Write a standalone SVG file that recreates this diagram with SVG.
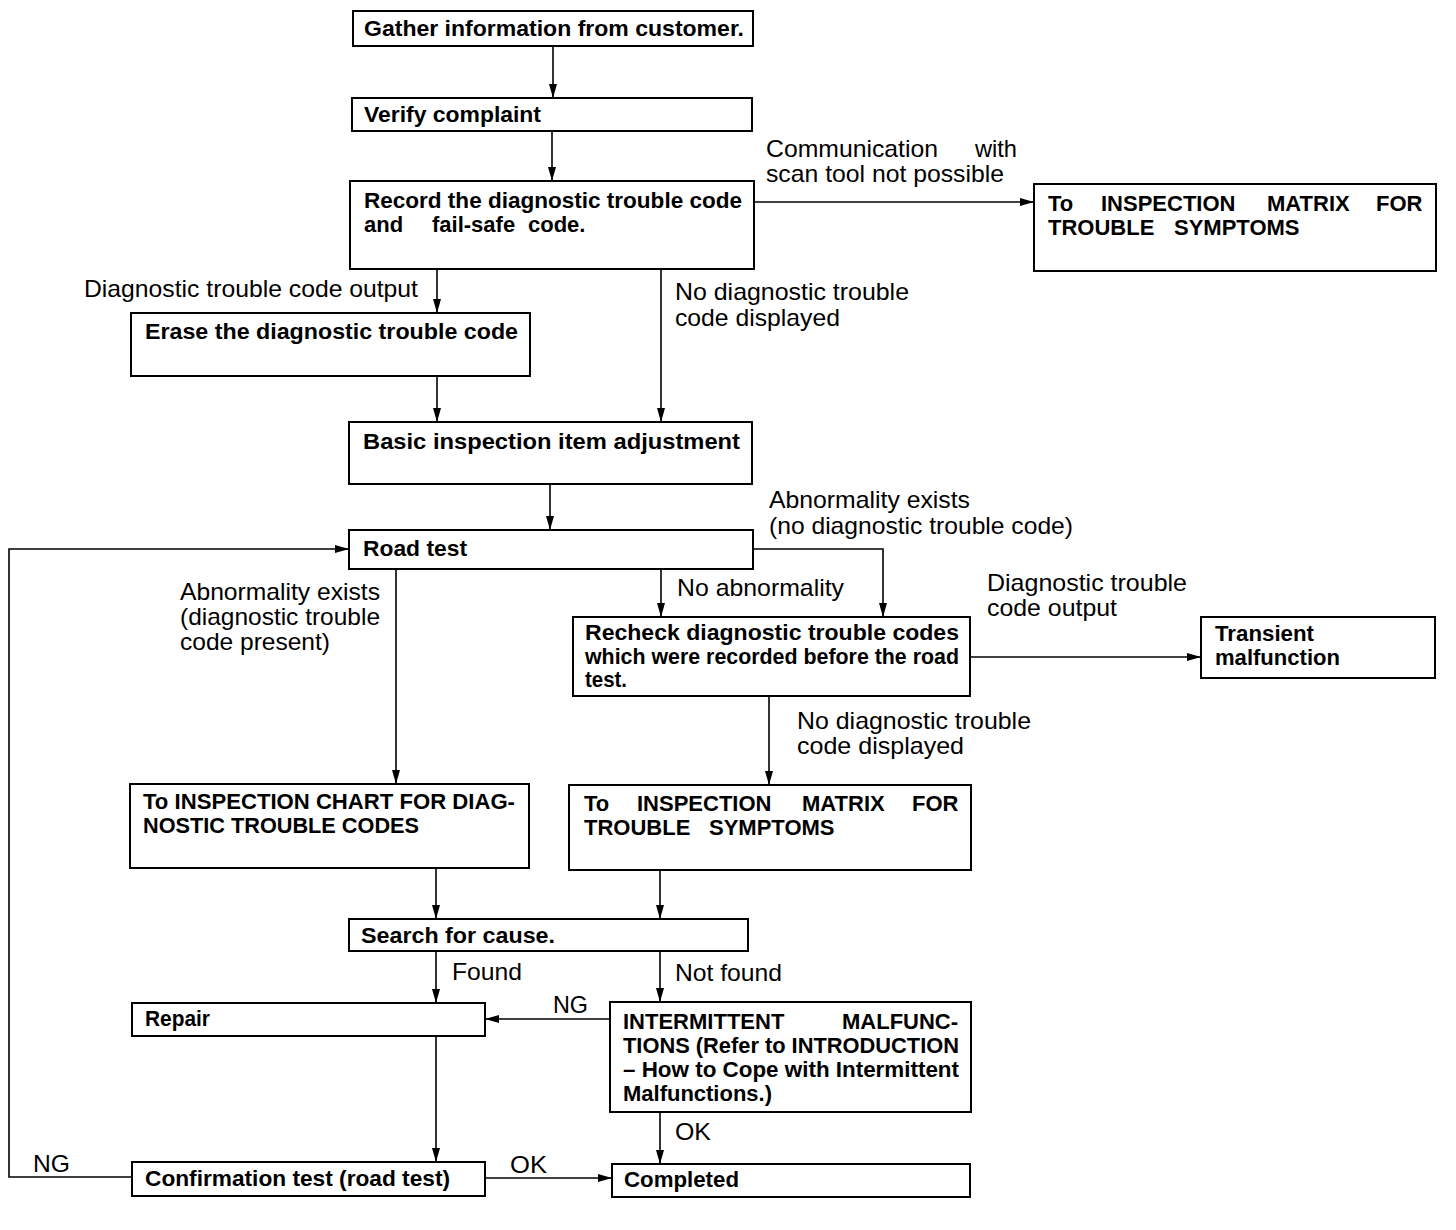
<svg xmlns="http://www.w3.org/2000/svg" width="1456" height="1230" viewBox="0 0 1456 1230">
<defs>
<style>
.box{fill:#fff;stroke:#000;stroke-width:2}
.b{font-family:"Liberation Sans",Arial,sans-serif;font-weight:bold;font-size:22px;fill:#000}
.l{font-family:"Liberation Sans",Arial,sans-serif;font-size:24px;fill:#000}
.c{fill:none;stroke:#000;stroke-width:1.6}
</style>
<marker id="ah" markerUnits="userSpaceOnUse" markerWidth="14" markerHeight="8" refX="14" refY="4" orient="auto">
<path d="M0,0 L14,4 L0,8 z" fill="#000"/>
</marker>
</defs>
<rect width="1456" height="1230" fill="#fff"/>

<g id="connectors">
<path class="c" d="M553,46 V98" marker-end="url(#ah)"/>
<path class="c" d="M552,131 V181" marker-end="url(#ah)"/>
<path class="c" d="M754,202 H1034" marker-end="url(#ah)"/>
<path class="c" d="M437,269 V313" marker-end="url(#ah)"/>
<path class="c" d="M661,269 V422" marker-end="url(#ah)"/>
<path class="c" d="M437,376 V422" marker-end="url(#ah)"/>
<path class="c" d="M550,484 V530" marker-end="url(#ah)"/>
<path class="c" d="M661,569 V617" marker-end="url(#ah)"/>
<path class="c" d="M753,549 H883 V617" marker-end="url(#ah)"/>
<path class="c" d="M396,569 V784" marker-end="url(#ah)"/>
<path class="c" d="M970,657 H1201" marker-end="url(#ah)"/>
<path class="c" d="M769,696 V785" marker-end="url(#ah)"/>
<path class="c" d="M436,868 V919" marker-end="url(#ah)"/>
<path class="c" d="M660,870 V919" marker-end="url(#ah)"/>
<path class="c" d="M436,951 V1003" marker-end="url(#ah)"/>
<path class="c" d="M660,951 V1002" marker-end="url(#ah)"/>
<path class="c" d="M610,1019 H485" marker-end="url(#ah)"/>
<path class="c" d="M436,1036 V1162" marker-end="url(#ah)"/>
<path class="c" d="M660,1112 V1164" marker-end="url(#ah)"/>
<path class="c" d="M485,1178 H612" marker-end="url(#ah)"/>
<path class="c" d="M132,1177 H9 V549 H349" marker-end="url(#ah)"/>
</g>

<g id="labels">
<text class="l" y="157"><tspan x="766" textLength="172" lengthAdjust="spacingAndGlyphs">Communication</tspan><tspan x="975" textLength="42" lengthAdjust="spacingAndGlyphs">with</tspan></text>
<text class="l" x="766" y="182" textLength="238" lengthAdjust="spacingAndGlyphs">scan tool not possible</text>
<text class="l" x="84" y="297" textLength="334" lengthAdjust="spacingAndGlyphs">Diagnostic trouble code output</text>
<text class="l" x="675" y="300" textLength="234" lengthAdjust="spacingAndGlyphs">No diagnostic trouble</text>
<text class="l" x="675" y="326" textLength="165" lengthAdjust="spacingAndGlyphs">code displayed</text>
<text class="l" x="769" y="508" textLength="201" lengthAdjust="spacingAndGlyphs">Abnormality exists</text>
<text class="l" x="769" y="534" textLength="304" lengthAdjust="spacingAndGlyphs">(no diagnostic trouble code)</text>
<text class="l" x="677" y="596" textLength="167" lengthAdjust="spacingAndGlyphs">No abnormality</text>
<text class="l" x="180" y="600" textLength="200" lengthAdjust="spacingAndGlyphs">Abnormality exists</text>
<text class="l" x="180" y="625" textLength="200" lengthAdjust="spacingAndGlyphs">(diagnostic trouble</text>
<text class="l" x="180" y="650" textLength="150" lengthAdjust="spacingAndGlyphs">code present)</text>
<text class="l" x="987" y="591" textLength="200" lengthAdjust="spacingAndGlyphs">Diagnostic trouble</text>
<text class="l" x="987" y="616" textLength="130" lengthAdjust="spacingAndGlyphs">code output</text>
<text class="l" x="797" y="729" textLength="234" lengthAdjust="spacingAndGlyphs">No diagnostic trouble</text>
<text class="l" x="797" y="754" textLength="167" lengthAdjust="spacingAndGlyphs">code displayed</text>
<text class="l" x="452" y="980" textLength="70" lengthAdjust="spacingAndGlyphs">Found</text>
<text class="l" x="675" y="981" textLength="107" lengthAdjust="spacingAndGlyphs">Not found</text>
<text class="l" x="553" y="1013" textLength="35" lengthAdjust="spacingAndGlyphs">NG</text>
<text class="l" x="675" y="1140" textLength="36" lengthAdjust="spacingAndGlyphs">OK</text>
<text class="l" x="33" y="1172" textLength="37" lengthAdjust="spacingAndGlyphs">NG</text>
<text class="l" x="510" y="1173" textLength="37" lengthAdjust="spacingAndGlyphs">OK</text>
</g>

<g id="n1"><rect class="box" x="353" y="11" width="400" height="35"/>
<text class="b" x="364" y="36" textLength="380" lengthAdjust="spacingAndGlyphs">Gather information from customer.</text></g>

<g id="n2"><rect class="box" x="352" y="98" width="400" height="33"/>
<text class="b" x="364" y="122" textLength="177" lengthAdjust="spacingAndGlyphs">Verify complaint</text></g>

<g id="n3"><rect class="box" x="350" y="181" width="404" height="88"/>
<text class="b" x="364" y="208" textLength="378" lengthAdjust="spacingAndGlyphs">Record the diagnostic trouble code</text>
<text class="b" y="232"><tspan x="364">and</tspan><tspan x="432">fail-safe</tspan><tspan x="528">code.</tspan></text></g>

<g id="n4"><rect class="box" x="1034" y="184" width="402" height="87"/>
<text class="b" y="211"><tspan x="1048">To</tspan><tspan x="1101">INSPECTION</tspan><tspan x="1267">MATRIX</tspan><tspan x="1376">FOR</tspan></text>
<text class="b" y="235"><tspan x="1048">TROUBLE</tspan><tspan x="1174">SYMPTOMS</tspan></text></g>

<g id="n5"><rect class="box" x="131" y="313" width="399" height="63"/>
<text class="b" x="145" y="339" textLength="373" lengthAdjust="spacingAndGlyphs">Erase the diagnostic trouble code</text></g>

<g id="n6"><rect class="box" x="349" y="422" width="403" height="62"/>
<text class="b" x="363" y="449" textLength="377" lengthAdjust="spacingAndGlyphs">Basic inspection item adjustment</text></g>

<g id="n7"><rect class="box" x="349" y="530" width="404" height="39"/>
<text class="b" x="363" y="556" textLength="104" lengthAdjust="spacingAndGlyphs">Road test</text></g>

<g id="n8"><rect class="box" x="573" y="617" width="397" height="79"/>
<text class="b" x="585" y="640" textLength="374" lengthAdjust="spacingAndGlyphs">Recheck diagnostic trouble codes</text>
<text class="b" x="585" y="664" textLength="374" lengthAdjust="spacingAndGlyphs">which were recorded before the road</text>
<text class="b" x="585" y="687" textLength="42" lengthAdjust="spacingAndGlyphs">test.</text></g>

<g id="n9"><rect class="box" x="1201" y="617" width="234" height="61"/>
<text class="b" x="1215" y="641" textLength="99" lengthAdjust="spacingAndGlyphs">Transient</text>
<text class="b" x="1215" y="665" textLength="125" lengthAdjust="spacingAndGlyphs">malfunction</text></g>

<g id="n10"><rect class="box" x="130" y="784" width="399" height="84"/>
<text class="b" x="143" y="809" textLength="372" lengthAdjust="spacingAndGlyphs">To INSPECTION CHART FOR DIAG-</text>
<text class="b" x="143" y="833" textLength="276" lengthAdjust="spacingAndGlyphs">NOSTIC TROUBLE CODES</text></g>

<g id="n11"><rect class="box" x="569" y="785" width="402" height="85"/>
<text class="b" y="811"><tspan x="584">To</tspan><tspan x="637">INSPECTION</tspan><tspan x="802">MATRIX</tspan><tspan x="912">FOR</tspan></text>
<text class="b" y="835"><tspan x="584">TROUBLE</tspan><tspan x="709">SYMPTOMS</tspan></text></g>

<g id="n12"><rect class="box" x="349" y="919" width="399" height="32"/>
<text class="b" x="361" y="943" textLength="194" lengthAdjust="spacingAndGlyphs">Search for cause.</text></g>

<g id="n13"><rect class="box" x="132" y="1003" width="353" height="33"/>
<text class="b" x="145" y="1026" textLength="65" lengthAdjust="spacingAndGlyphs">Repair</text></g>

<g id="n14"><rect class="box" x="610" y="1002" width="361" height="110"/>
<text class="b" y="1029"><tspan x="623">INTERMITTENT</tspan><tspan x="842">MALFUNC-</tspan></text>
<text class="b" x="623" y="1053" textLength="336" lengthAdjust="spacingAndGlyphs">TIONS (Refer to INTRODUCTION</text>
<text class="b" x="623" y="1077" textLength="336" lengthAdjust="spacingAndGlyphs">– How to Cope with Intermittent</text>
<text class="b" x="623" y="1101" textLength="149" lengthAdjust="spacingAndGlyphs">Malfunctions.)</text></g>

<g id="n15"><rect class="box" x="132" y="1162" width="353" height="34"/>
<text class="b" x="145" y="1186" textLength="305" lengthAdjust="spacingAndGlyphs">Confirmation test (road test)</text></g>

<g id="n16"><rect class="box" x="612" y="1164" width="358" height="33"/>
<text class="b" x="624" y="1187" textLength="115" lengthAdjust="spacingAndGlyphs">Completed</text></g>
</svg>
